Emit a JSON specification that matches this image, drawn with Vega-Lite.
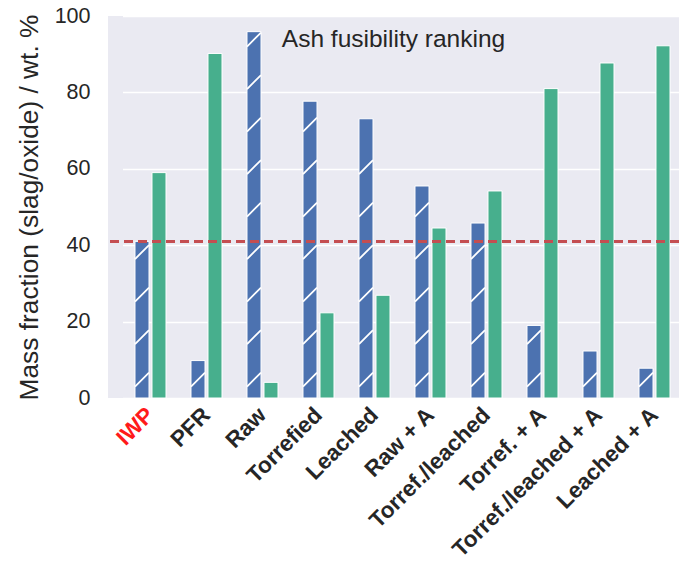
{
  "$schema": "https://vega.github.io/schema/vega-lite/v6.json",
  "width": 571,
  "height": 382,
  "autosize": "none",
  "padding": {"left": 108, "top": 16, "right": 0, "bottom": 172},
  "background": "white",
  "config": {
    "view": {"fill": "#EAEAF2", "stroke": null},
    "font": "Liberation Sans"
  },
  "data": {
    "values": [
      {"cat": "IWP", "series": "slag", "value": 41},
      {"cat": "IWP", "series": "oxide", "value": 59},
      {"cat": "PFR", "series": "slag", "value": 9.8},
      {"cat": "PFR", "series": "oxide", "value": 90.2},
      {"cat": "Raw", "series": "slag", "value": 95.9},
      {"cat": "Raw", "series": "oxide", "value": 4.1},
      {"cat": "Torrefied", "series": "slag", "value": 77.7},
      {"cat": "Torrefied", "series": "oxide", "value": 22.3},
      {"cat": "Leached", "series": "slag", "value": 73.1},
      {"cat": "Leached", "series": "oxide", "value": 26.9},
      {"cat": "Raw + A", "series": "slag", "value": 55.5},
      {"cat": "Raw + A", "series": "oxide", "value": 44.5},
      {"cat": "Torref./leached", "series": "slag", "value": 45.8},
      {"cat": "Torref./leached", "series": "oxide", "value": 54.2},
      {"cat": "Torref. + A", "series": "slag", "value": 19},
      {"cat": "Torref. + A", "series": "oxide", "value": 81},
      {"cat": "Torref./leached + A", "series": "slag", "value": 12.3},
      {"cat": "Torref./leached + A", "series": "oxide", "value": 87.7},
      {"cat": "Leached + A", "series": "slag", "value": 7.8},
      {"cat": "Leached + A", "series": "oxide", "value": 92.2}
    ]
  },
  "layer": [
    {
      "mark": {"type": "bar", "stroke": "white", "strokeWidth": 1},
      "encoding": {
        "x": {
          "field": "cat",
          "type": "nominal",
          "sort": ["IWP", "PFR", "Raw", "Torrefied", "Leached", "Raw + A", "Torref./leached", "Torref. + A", "Torref./leached + A", "Leached + A"],
          "scale": {"range": [14.5, 574.5], "paddingInner": 0, "paddingOuter": 0},
          "axis": {
            "title": null,
            "labelAngle": -45,
            "labelAlign": "right",
            "labelBaseline": "middle",
            "labelFontSize": 22.5,
            "labelFontWeight": "bold",
            "labelColor": {"condition": {"test": "datum.value == 'IWP'", "value": "#FF1A1A"}, "value": "#262626"},
            "labelLimit": 400,
            "labelPadding": 13,
            "ticks": false,
            "domain": false,
            "grid": false
          }
        },
        "xOffset": {
          "field": "series",
          "type": "nominal",
          "scale": {"domain": ["slag", "oxide"], "paddingInner": 0.176, "paddingOuter": 0.735}
        },
        "y": {
          "field": "value",
          "type": "quantitative",
          "scale": {"domain": [0, 100], "nice": false},
          "axis": {
            "title": "Mass fraction (slag/oxide) / wt. %",
            "titleFontSize": 26.3,
            "titleFontWeight": "normal",
            "titleColor": "#262626",
            "titlePadding": 11,
            "values": [0, 10, 20, 30, 40, 50, 60, 70, 80, 90, 100],
            "labelExpr": "datum.value % 20 == 0 ? datum.label : ''",
            "labelFontSize": 21.5,
            "labelColor": "#262626",
            "labelPadding": 18,
            "ticks": false,
            "domain": false,
            "gridColor": "white",
            "gridWidth": 1.5
          }
        },
        "color": {
          "field": "series",
          "type": "nominal",
          "scale": {"domain": ["slag", "oxide"], "range": ["#4C72B0", "#47AF8D"]},
          "legend": null
        }
      }
    },
    {
      "transform": [{"filter": "datum.series == 'slag'"}],
      "mark": {
        "type": "point",
        "shape": {"expr": "'M-1,-1.64' + replace(pad('', max(0, floor((datum.value - 6.66) / 11.13) + 1), '#'), regexp('#', 'g'), 'l2,-2m-2,-4.07')"},
        "size": 196,
        "filled": false,
        "color": "white",
        "strokeWidth": 1.8,
        "opacity": 1
      },
      "encoding": {
        "x": {"field": "cat", "type": "nominal", "sort": ["IWP", "PFR", "Raw", "Torrefied", "Leached", "Raw + A", "Torref./leached", "Torref. + A", "Torref./leached + A", "Leached + A"]},
        "xOffset": {"field": "series", "type": "nominal"},
        "y": {"datum": 0, "type": "quantitative"}
      }
    },
    {
      "mark": {"type": "rule", "color": "#C44E52", "strokeDash": [9, 5], "strokeWidth": 2.2},
      "encoding": {"y": {"datum": 41, "type": "quantitative"}}
    },
    {
      "data": {"values": [{"label": "Ash fusibility ranking"}]},
      "mark": {"type": "text", "fontSize": 24.5, "color": "#262626", "align": "center", "baseline": "alphabetic"},
      "encoding": {
        "text": {"field": "label", "type": "nominal"},
        "x": {"datum": "Leached", "type": "nominal", "bandPosition": 0.839},
        "y": {"datum": 92, "type": "quantitative"}
      }
    }
  ]
}
